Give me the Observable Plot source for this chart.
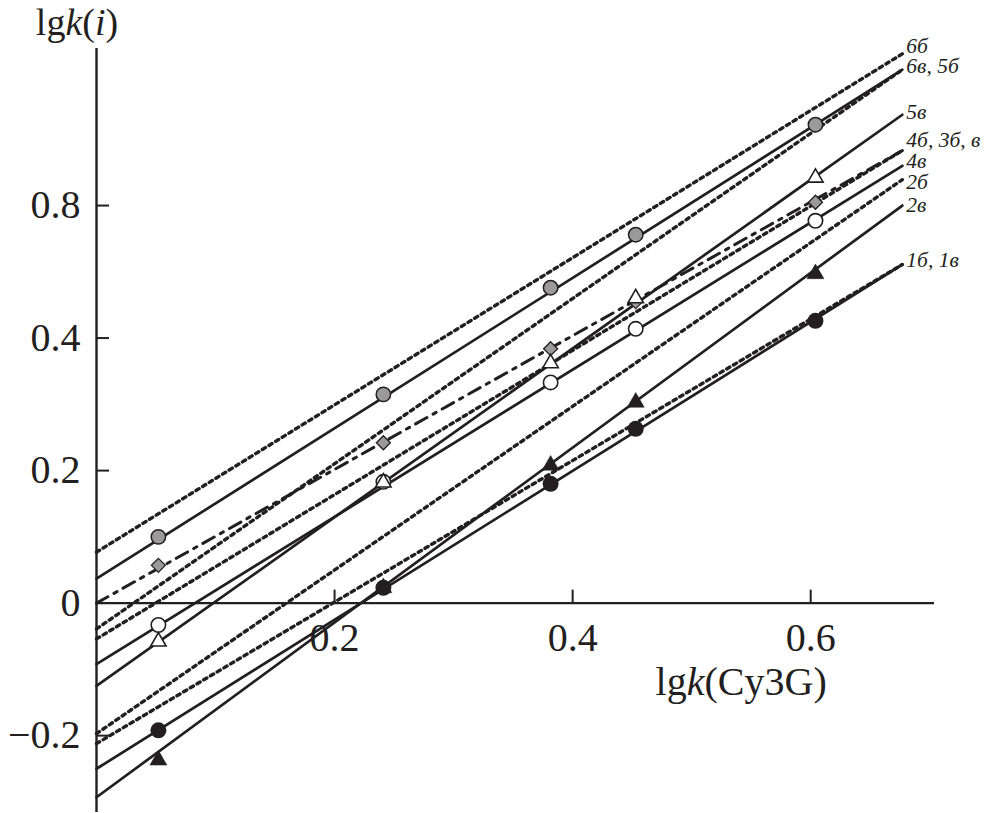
<!DOCTYPE html>
<html>
<head>
<meta charset="utf-8">
<script src="https://cdn.jsdelivr.net/npm/d3@7"></script>
<script src="https://cdn.jsdelivr.net/npm/@observablehq/plot@0.6"></script>
<style>
  html, body { margin: 0; padding: 0; background: #fff; }
  #chart { width: 990px; height: 813px; }
</style>
</head>
<body>
<div id="chart"></div>
<script>
// ---------- data ----------
const xPoints = [0.052, 0.241, 0.3815, 0.453, 0.604];            // lgk(Cy3G) of experimental points
const s6v  = [0.100, 0.315, 0.476, 0.556, 0.722];                // grey circles (6в)
const s5v  = [-0.058, 0.182, 0.362, 0.460, 0.642];               // open triangles (5в)
const s4v  = [-0.033, 0.183, 0.333, 0.414, 0.577];               // open circles (4в)
const s3v  = [0.057, 0.242, 0.384, 0.455, 0.605];                // grey diamonds (3в)
const s2v  = [-0.237, 0.023, 0.208, 0.303, 0.497];               // filled triangles (2в)
const s1v  = [-0.192, 0.023, 0.180, 0.263, 0.426];               // filled circles (1в)

const lineNames = ["6б", "6в", "5б", "5в", "4б", "3в", "4в", "2б", "2в", "1б", "1в"];
const lineKind  = ["dot", "solid", "dot", "solid", "dot", "dashdot", "solid", "dot", "solid", "dot", "solid"];
const lineX     = [0, 0.677];                                     // start / end of every line
const lineStart = [0.077, 0.037, -0.039, -0.125, -0.054, 0.000, -0.092, -0.197, -0.293, -0.212, -0.250];
const lineEnd   = [0.829, 0.805, 0.805, 0.737, 0.683, 0.683, 0.660, 0.639, 0.600, 0.511, 0.511];

const labelText = ["6б", "6в, 5б", "5в", "4б, 3б, в", "4в", "2б", "2в", "1б, 1в"];
const labelY    = [0.830, 0.800, 0.730, 0.689, 0.656, 0.625, 0.591, 0.508];

const xTicks      = [0.2, 0.4, 0.6];
const xTickLabels = ["0.2", "0.4", "0.6"];
const yTicks      = [-0.2, 0, 0.2, 0.4, 0.6];
const yTickLabels = ["\u22120.2", "0", "0.2", "0.4", "0.8"];

// ---------- derived tables ----------
const lineRows = lineNames.flatMap((name, i) => [
  {name, kind: lineKind[i], x: lineX[0], y: lineStart[i]},
  {name, kind: lineKind[i], x: lineX[1], y: lineEnd[i]}
]);
const pts = (vals, series) => xPoints.map((x, i) => ({x, y: vals[i], series}));
const labelRows = labelText.map((text, i) => ({text, x: lineX[1], y: labelY[i]}));

// ---------- styles ----------
const ink = "#231f20";
const grey = "#9a9a9a";
const serif = "'Liberation Serif', 'Times New Roman', serif";
const xDomain = [0, 0.704];
const yDomain = [-0.316, 0.837];
const margin = {top: 48, right: 56, bottom: 1, left: 96};
const W = 990, H = 813;
const pxPerY = (H - margin.top - margin.bottom) / (yDomain[1] - yDomain[0]);
const pxPerX = (W - margin.left - margin.right) / (xDomain[1] - xDomain[0]);
const tickLen = 13;

const plot = Plot.plot({
  width: W, height: H,
  marginTop: margin.top, marginRight: margin.right, marginBottom: margin.bottom, marginLeft: margin.left,
  x: {domain: xDomain, axis: null},
  y: {domain: yDomain, axis: null},
  style: {fontFamily: serif, background: "#fff", color: ink, overflow: "visible"},
  marks: [
    // axes
    Plot.ruleY([0], {x1: xDomain[0], x2: xDomain[1], stroke: ink, strokeWidth: 2.4}),
    Plot.ruleX([0], {y1: yDomain[0], y2: yDomain[1], stroke: ink, strokeWidth: 2.4}),
    Plot.ruleX(xTicks, {x: d => d, y1: 0, y2: tickLen / pxPerY, stroke: ink, strokeWidth: 2}),
    Plot.ruleY(yTicks.filter(d => d !== 0), {y: d => d, x1: 0, x2: tickLen / pxPerX, stroke: ink, strokeWidth: 2}),
    Plot.text(xTicks, {x: d => d, y: 0, text: (d, i) => xTickLabels[i], lineAnchor: "top", dy: 19, fontSize: 40, fill: ink}),
    Plot.text(yTicks, {x: 0, y: d => d, text: (d, i) => yTickLabels[i], textAnchor: "end", lineAnchor: "middle", dx: -16, fontSize: 40, fill: ink}),

    // lines
    Plot.line(lineRows.filter(d => d.kind === "dot"), {x: "x", y: "y", z: "name", stroke: ink, strokeWidth: 3.4, strokeDasharray: "3.6,4.2"}),
    Plot.line(lineRows.filter(d => d.kind === "dashdot"), {x: "x", y: "y", z: "name", stroke: ink, strokeWidth: 3, strokeDasharray: "13,7,3.5,7"}),
    Plot.line(lineRows.filter(d => d.kind === "solid"), {x: "x", y: "y", z: "name", stroke: ink, strokeWidth: 2.7}),

    // markers
    Plot.dot(pts(s3v, "3в"), {x: "x", y: "y", symbol: "diamond2", r: 6.3, fill: grey, stroke: ink, strokeWidth: 1.3}),
    Plot.dot(pts(s6v, "6в"), {x: "x", y: "y", r: 7.2, fill: grey, stroke: ink, strokeWidth: 1.5}),
    Plot.dot(pts(s4v, "4в"), {x: "x", y: "y", r: 7.2, fill: "#fff", stroke: ink, strokeWidth: 1.6}),
    Plot.dot(pts(s2v, "2в"), {x: "x", y: "y", symbol: "triangle", r: 6.3, fill: ink, stroke: ink, strokeWidth: 0.5}),
    Plot.dot(pts(s1v, "1в"), {x: "x", y: "y", r: 8, fill: ink, stroke: "none"}),
    Plot.dot(pts(s5v, "5в"), {x: "x", y: "y", symbol: "triangle", r: 5.7, fill: "#fff", stroke: ink, strokeWidth: 1.6}),

    // line labels
    Plot.text(labelRows, {x: "x", y: "y", text: "text", textAnchor: "start", lineAnchor: "bottom", dx: 4, fontSize: 21.5, fontStyle: "italic", fill: ink})
  ]
});

document.getElementById("chart").appendChild(plot);

// axis titles with mixed italic
const xs = plot.scale("x"), ys = plot.scale("y");
const svg = d3.select(plot);
function title(x, y, size, parts) {
  const t = svg.append("text")
    .attr("x", x).attr("y", y)
    .attr("text-anchor", "middle")
    .attr("font-family", serif)
    .attr("font-size", size)
    .attr("fill", ink);
  parts.forEach(([s, it]) => t.append("tspan").attr("font-style", it ? "italic" : "normal").text(s));
}
title(xs.apply(0) - 19, 35, 38, [["lg", false], ["k", true], ["(", false], ["i", true], [")", false]]);
title(xs.apply(0.542), ys.apply(0) + 92, 40, [["lg", false], ["k", true], ["(Cy3G)", false]]);
</script>
</body>
</html>
